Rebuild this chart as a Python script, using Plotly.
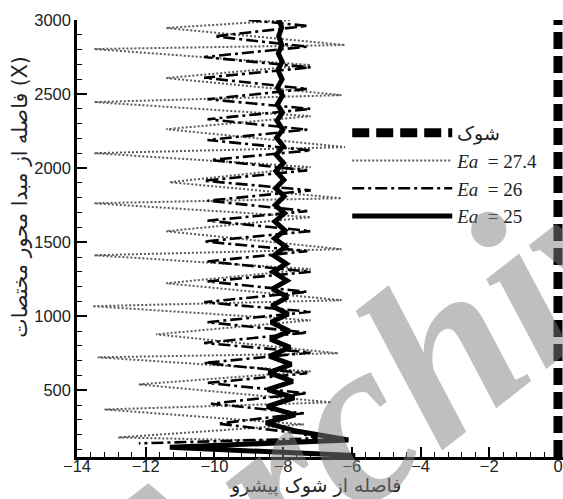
import plotly.graph_objects as go

# ---------------- data ----------------
shock_x = [0, 0]
shock_y = [50, 3000]

ea274_y = [3000, 2946, 2831, 2804, 2696, 2608, 2493, 2446, 2351, 2263, 2142, 2101,
           2007, 1905, 1797, 1763, 1669, 1574, 1453, 1412, 1318, 1223, 1108, 1068,
           973, 878, 750, 723, 628, 540, 419, 371, 270, 182, 150]
ea274_x = [-7.8, -11.4, -6.2, -13.5, -7.2, -11.4, -6.3, -13.5, -7.2, -11.4, -6.2, -13.5,
           -7.2, -11.3, -6.3, -13.5, -7.2, -11.4, -6.3, -13.5, -7.2, -11.4, -6.3, -13.55,
           -7.2, -11.7, -6.4, -13.4, -7.2, -12.2, -6.6, -13.2, -7.4, -12.8, -6.3]

ea26_y = [3000, 2960, 2890, 2820, 2750, 2680, 2610, 2535, 2465, 2400, 2330, 2260,
          2190, 2120, 2055, 1985, 1915, 1850, 1780, 1710, 1645, 1575, 1505, 1440,
          1370, 1300, 1235, 1165, 1095, 1030, 960, 890, 820, 755, 685, 615, 550,
          480, 410, 345, 275, 210, 176, 142]
ea26_x = [-9.0, -7.3, -10.0, -7.3, -10.3, -7.2, -10.3, -7.3, -10.2, -7.2, -10.2, -7.3,
          -10.2, -7.2, -10.1, -7.3, -10.3, -7.2, -10.2, -7.3, -10.2, -7.2, -10.3, -7.3,
          -10.2, -7.2, -10.2, -7.3, -10.3, -7.2, -10.2, -7.3, -10.3, -7.2, -10.3, -7.3, -10.2,
          -7.3, -10.1, -7.4, -9.9, -7.5, -7.0, -12.2]

ea25_y = [3000, 2950, 2890, 2830, 2775, 2720, 2660, 2600, 2545, 2490, 2430, 2375,
          2320, 2260, 2205, 2150, 2090, 2035, 1980, 1920, 1865, 1810, 1750, 1695,
          1640, 1580, 1525, 1470, 1410, 1355, 1300, 1240, 1185, 1130, 1070, 1015,
          960, 900, 845, 790, 730, 675, 620, 560, 505, 450, 390, 335, 280, 225,
          165, 115, 60]
ea25_x = [-8.12, -8.04, -8.13, -8.04, -8.14, -8.03, -8.15, -8.03, -8.16, -8.02, -8.17, -8.02,
          -8.18, -8.01, -8.19, -8.0, -8.2, -7.99, -8.21, -7.98, -8.22, -7.97, -8.23, -7.96,
          -8.24, -7.95, -8.25, -7.93, -8.27, -7.91, -8.29, -7.89, -8.31, -7.87, -8.33, -7.85,
          -8.35, -7.82, -8.37, -7.8, -8.4, -7.76, -8.42, -7.72, -8.45, -7.68, -8.47, -7.65,
          -8.5, -7.62, -6.1, -11.3, -5.9]

x_ticks = [-14, -12, -10, -8, -6, -4, -2, 0]
y_ticks = [500, 1000, 1500, 2000, 2500, 3000]

names = ["شوک", "<i>Ea</i>  = 27.4", "<i>Ea</i>  = 26", "<i>Ea</i>  = 25"]
x_title = "فاصله از شوک پیشرو"
y_title = "فاصله از مبدا محور مختصات (X)"
watermark = "Archive"

# ---------------- figure ----------------
fig = go.Figure()
fig.add_trace(go.Scatter(x=shock_x, y=shock_y, mode="lines", name=names[0],
                         line=dict(color="black", width=9, dash="17px,7px")))
fig.add_trace(go.Scatter(x=ea274_x, y=ea274_y, mode="lines", name=names[1],
                         line=dict(color="#5a5a5a", width=2, dash="2px,2px")))
fig.add_trace(go.Scatter(x=ea26_x, y=ea26_y, mode="lines", name=names[2],
                         line=dict(color="black", width=2.6, dash="12px,4px,3px,4px")))
fig.add_trace(go.Scatter(x=ea25_x, y=ea25_y, mode="lines", name=names[3],
                         line=dict(color="black", width=5)))

tickfont = dict(family="Liberation Sans, Arial, sans-serif", size=16.5, color="#222")
fig.update_xaxes(range=[-14, 0.146], tickvals=x_ticks, ticks="inside", ticklen=10,
                 tickwidth=2, tickcolor="black", showline=True, linewidth=2.5,
                 linecolor="black", showgrid=False, zeroline=False, tickfont=tickfont,
                 ticklabelstandoff=-8,
                 minor=dict(dtick=0.4, tick0=0, ticks="inside", ticklen=5, tickwidth=1.2,
                            tickcolor="black", showgrid=False))
fig.update_yaxes(range=[50, 3000], tickvals=y_ticks, ticks="inside", ticklen=10,
                 tickwidth=2, tickcolor="black", showline=True, linewidth=2.5,
                 linecolor="black", showgrid=False, zeroline=False, tickfont=tickfont,
                 minor=dict(dtick=100, tick0=0, ticks="inside", ticklen=5, tickwidth=1.2,
                            tickcolor="black", showgrid=False))

fig.add_annotation(text=y_title, xref="paper", yref="paper", x=-0.118, y=0.595,
                   xanchor="center", yanchor="middle",
                   textangle=-90, showarrow=False,
                   font=dict(family="DejaVu Sans, Noto Sans, sans-serif", size=20.5, color="#222"))
fig.add_annotation(text=x_title, xref="paper", yref="paper", x=0.49, y=-0.066,
                   showarrow=False, xanchor="center", yanchor="middle",
                   font=dict(family="DejaVu Sans, Noto Sans, sans-serif", size=19, color="#222"))
fig.add_annotation(text="<b><i>" + watermark + "</i></b>", xref="paper", yref="paper",
                   x=0.675, y=0.179, xanchor="center", yanchor="middle",
                   textangle=-38, showarrow=False,
                   font=dict(family="Liberation Serif, serif", size=235,
                             color="rgba(128,128,128,0.5)"))

fig.update_layout(
    width=563, height=499,
    margin=dict(l=77, r=0, t=20, b=42),
    paper_bgcolor="white", plot_bgcolor="white",
    showlegend=True,
    legend=dict(x=0.556, y=0.785, xanchor="left", yanchor="top",
                bgcolor="rgba(0,0,0,0)", itemwidth=100,
                font=dict(family="Liberation Serif, serif", size=19, color="#222"),
                tracegroupgap=0),
)

fig.write_html("out.html")
